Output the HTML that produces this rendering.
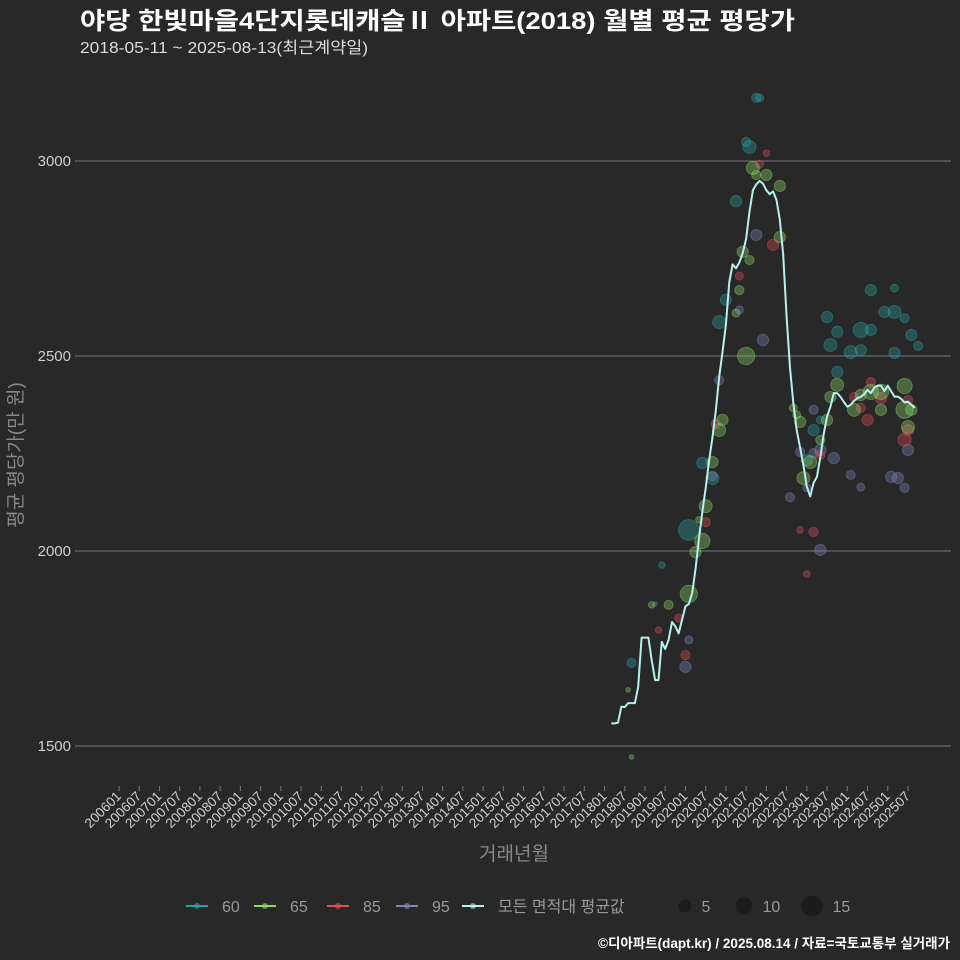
<!DOCTYPE html>
<html><head><meta charset="utf-8">
<style>
html,body{margin:0;padding:0;background:#282828;}
svg{display:block;font-family:"Liberation Sans","Noto Sans CJK KR",sans-serif;}
</style></head>
<body>
<svg id="chart" width="960" height="960" viewBox="0 0 960 960">
<rect width="960" height="960" fill="#282828"/>
<text x="80" y="29" font-size="24" font-weight="bold" fill="#ffffff" textLength="715" lengthAdjust="spacingAndGlyphs">야당 한빛마을4단지롯데캐슬Ⅱ 아파트(2018) 월별 평균 평당가</text>
<text x="80" y="53" font-size="16" fill="#dddddd" textLength="288" lengthAdjust="spacingAndGlyphs">2018-05-11 ~ 2025-08-13(최근계약일)</text>
<g id="grid"></g>
<g id="yaxis"></g>
<g id="xaxis"></g>
<g id="bubbles"></g>
<g id="avgline"></g>
<text transform="translate(22,455) rotate(-90)" text-anchor="middle" font-size="19" fill="#888">평균 평당가(만 원)</text>
<text x="514" y="860" text-anchor="middle" font-size="19" fill="#888">거래년월</text>
<g id="legend"></g>
<text x="950" y="948" text-anchor="end" font-size="13.5" font-weight="bold" fill="#ffffff">©디아파트(dapt.kr) / 2025.08.14 / 자료=국토교통부 실거래가</text>
</svg>
<script>
// y ticks
const yTicks = [1500, 2000, 2500, 3000];
// x tick labels every 6 months
const xTickLabels = [];
for (let y = 2006; y <= 2025; y++) { xTickLabels.push(y + "01"); xTickLabels.push(y + "07"); }
// average line: monthly values starting 2018-03
const lineStart = "201803";
const avgValues = [1558,1558,1560,1601,1600,1610,1610,1610,1652,1778,1778,1778,1720,1669,1669,1767,1749,1772,1818,1807,1789,1824,1858,1864,1892,1955,2030,2100,2161,2230,2290,2360,2447,2510,2580,2690,2735,2725,2740,2765,2800,2870,2925,2940,2949,2942,2925,2915,2922,2900,2850,2760,2600,2470,2380,2310,2265,2220,2165,2140,2175,2190,2240,2300,2345,2370,2405,2405,2395,2382,2370,2375,2385,2392,2395,2402,2413,2405,2419,2424,2424,2410,2424,2410,2396,2396,2390,2381,2383,2375,2367];
// bubbles: month offset from 201801, value, count, type
const gMonths = [8,7,14,19,25,29,30,32,34,35,42,40,41,43,39,44,45,48,52,52,56,57,58,59,61,64,66,67,69,74,76,79,82,82,89,89,90,91,28,27];
const gValues = [1472,1644,1862,1862,1890,2026,2115,2228,2310,2336,2500,2669,2767,2746,2610,2982,2964,2964,2936,2805,2367,2349,2331,2187,2228,2285,2336,2395,2426,2362,2400,2408,2408,2362,2423,2362,2318,2362,2080,1997];
const gCounts = [1,1,2,4,14,11,8,6,8,6,14,4,6,4,3,8,4,6,6,6,3,3,6,8,8,4,6,6,8,8,6,11,11,6,11,14,8,6,2,6];
const tMonths = [8,17,25,29,32,34,43,42,39,45,46,60,62,64,67,69,66,69,73,76,76,79,83,86,86,91,86,89,93,79,36];
const tValues = [1713,1964,2054,2226,2187,2587,3036,3049,2897,3162,3162,2233,2310,2336,2528,2562,2600,2459,2510,2567,2515,2567,2613,2613,2508,2554,2674,2597,2526,2669,2644];
const tCounts = [4,2,20,6,8,8,8,4,6,4,3,6,6,3,8,6,6,6,8,11,6,6,6,8,6,6,3,4,4,6,6];
const rMonths = [16,22,24,30,33,40,46,48,50,58,60,62,64,74,76,78,82,79,89,90,90];
const rValues = [1797,1828,1733,2074,2326,2705,2992,3020,2785,2054,1941,2049,2246,2395,2367,2336,2392,2433,2285,2310,2387];
const rCounts = [2,3,4,4,4,3,3,2,6,2,2,4,4,4,4,6,6,4,8,6,4];
const bMonths = [15,24,25,34,32,40,47,45,55,58,60,62,64,62,68,73,76,85,87,90,89,64];
const bValues = [1864,1703,1772,2438,2192,2618,2541,2810,2138,2254,2162,2251,2259,2362,2238,2195,2164,2190,2187,2259,2162,2003];
const bCounts = [1,6,3,4,4,3,6,6,4,4,3,4,6,4,6,4,3,6,6,6,4,6];

const NS = "http://www.w3.org/2000/svg";
function mk(tag, attrs, parent) { const e = document.createElementNS(NS, tag); for (const k in attrs) e.setAttribute(k, attrs[k]); parent.appendChild(e); return e; }
const X0 = 119, PER6 = 20.23;
function monthIndex(ym) { const y = +ym.slice(0,4), m = +ym.slice(4); return (y - 2006) * 12 + (m - 1); }
function xScale(mi) { return X0 + mi * PER6 / 6; }
function yScale(v) { return 161 + (3000 - v) * 195 / 500; }
const base2018 = monthIndex("201801");

const grid = document.getElementById('grid'), yax = document.getElementById('yaxis'), xax = document.getElementById('xaxis');
yTicks.forEach(v => {
  const l = mk('line', {x1:79, x2:951, y1:yScale(v), y2:yScale(v), stroke:'#777', 'stroke-width':1}, grid);
  
  
  mk('line', {x1:75, x2:79, y1:yScale(v), y2:yScale(v), stroke:'#777'}, yax);
  const t = mk('text', {x:71, y:yScale(v)+5, 'text-anchor':'end', 'font-size':15, fill:'#cfcfcf'}, yax);
  t.textContent = v;
  
  
});
xTickLabels.forEach(lb => {
  const x = xScale(monthIndex(lb));
  mk('line', {x1:x, x2:x, y1:786, y2:791, stroke:'#777'}, xax);
  const t = mk('text', {transform:`translate(${x+3},797) rotate(-45)`, 'text-anchor':'end', 'font-size':13.5, fill:'#cfcfcf'}, xax);
  t.textContent = lb;
  
  
});

const colors = {g:'#8fd96a', t:'#2aa3a3', r:'#e0505a', b:'#7a88b8'};
const bg = document.getElementById('bubbles');
function drawBubbles(months, values, counts, key, name) {
  months.forEach((mo, i) => {
    const c = mk('circle', {cx:xScale(base2018 + mo), cy:yScale(values[i]), r:2.3*Math.sqrt(counts[i]), fill:colors[key], 'fill-opacity':0.35, stroke:colors[key], 'stroke-opacity':0.4, 'stroke-width':1}, bg);
    
    
  });
}
drawBubbles(tMonths, tValues, tCounts, 't', 'area-60');
drawBubbles(bMonths, bValues, bCounts, 'b', 'area-95');
drawBubbles(rMonths, rValues, rCounts, 'r', 'area-85');
drawBubbles(gMonths, gValues, gCounts, 'g', 'area-65');

const s = monthIndex(lineStart);
const pts = avgValues.map((v, i) => xScale(s + i).toFixed(1) + ',' + yScale(v).toFixed(1)).join(' ');
const pl = mk('polyline', {points:pts, fill:'none', stroke:'#b8f0ee', 'stroke-width':2, 'stroke-linejoin':'round'}, document.getElementById('avgline'));



// legend
const lg = document.getElementById('legend');
const legItems = [['60','#2aa3a3',186],['65','#8fd96a',254],['85','#e0505a',327],['95','#7a88b8',396],['모든 면적대 평균값','#b8f0ee',462]];
legItems.forEach(([lab, col, x]) => {
  const g = mk('g', {}, lg);
  
  
  mk('line', {x1:x, x2:x+22, y1:906, y2:906, stroke:col, 'stroke-width':2}, g);
  mk('circle', {cx:x+11, cy:906, r:3, fill:col, 'fill-opacity':0.6}, g);
  const t = mk('text', {x:x+36, y:912, 'font-size':16, fill:'#999'}, g);
  t.textContent = lab;
});
[[5,685,6.5],[10,744,8.5],[15,812,10.5]].forEach(([n, x, r]) => {
  const g = mk('g', {}, lg);
  
  
  mk('circle', {cx:x, cy:906, r:r, fill:'#1c1c1c'}, g);
  const t = mk('text', {x:x + r + 10, y:912, 'font-size':16, fill:'#999'}, g);
  t.textContent = n;
});
</script>
</body></html>
